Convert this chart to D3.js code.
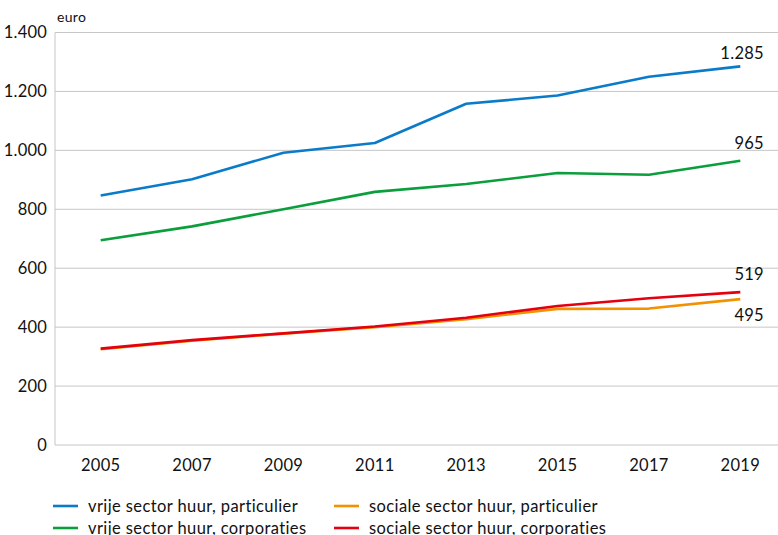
<!DOCTYPE html>
<html>
<head>
<meta charset="utf-8">
<script src="https://cdn.jsdelivr.net/npm/d3@7"></script>
<style>
  html, body { margin: 0; padding: 0; background: #fff; }
  svg { display: block; font-family: Lato, "Open Sans", sans-serif; }
</style>
</head>
<body>
<svg id="chart" width="778" height="535"></svg>
<script>
const years = [2005, 2007, 2009, 2011, 2013, 2015, 2017, 2019];
const yTicks = [0, 200, 400, 600, 800, 1000, 1200, 1400];
const vrijeParticulier = [847, 902, 992, 1025, 1158, 1186, 1250, 1285];
const vrijeCorporaties = [695, 742, 800, 859, 886, 923, 917, 965];
const socialeParticulier = [325, 354, 378, 400, 427, 462, 463, 495];
const socialeCorporaties = [327, 356, 379, 402, 432, 472, 498, 519];
const seriesNames = [
  "vrije sector huur, particulier",
  "vrije sector huur, corporaties",
  "sociale sector huur, particulier",
  "sociale sector huur, corporaties"
];
const endLabels = ["1.285", "965", "495", "519"];

const colors = ["#0a7bc9", "#0a9e3c", "#f39200", "#e3000f"];
const series = [vrijeParticulier, vrijeCorporaties, socialeParticulier, socialeCorporaties];

(function () {
const svg = d3.select("#chart");
const mLeft = 55, mRight = 786, mTop = 32.5, mBottom = 445;

const x = d3.scalePoint().domain(years).range([mLeft, mRight]).padding(0.5);
const y = d3.scaleLinear().domain([0, 1400]).range([mBottom, mTop]);
const fmt = v => d3.format(",")(v).replace(/,/g, ".");

// gridlines
svg.append("g").selectAll("line").data(yTicks).join("line")
  .attr("x1", mLeft).attr("x2", 778)
  .attr("y1", d => y(d)).attr("y2", d => y(d))
  .attr("stroke", "#c6c6c6").attr("stroke-width", 1);
// y axis line
svg.append("line").attr("x1", mLeft).attr("x2", mLeft)
  .attr("y1", mTop).attr("y2", mBottom)
  .attr("stroke", "#c6c6c6").attr("stroke-width", 1);

// y labels
svg.append("g").selectAll("text").data(yTicks).join("text")
  .attr("x", 47).attr("y", d => y(d)).attr("dy", "0.36em")
  .attr("text-anchor", "end").attr("font-size", 16.5).attr("letter-spacing", 0.2).attr("fill", "#111")
  .text(d => fmt(d));

svg.append("text").attr("x", 57).attr("y", 22).attr("font-size", 14)
  .attr("letter-spacing", 0.3).attr("fill", "#111").text("euro");

// x labels
svg.append("g").selectAll("text").data(years).join("text")
  .attr("x", d => x(d)).attr("y", 471)
  .attr("text-anchor", "middle").attr("font-size", 16.5).attr("letter-spacing", 0.3).attr("fill", "#111")
  .text(d => d);

const line = d3.line().x((d, i) => x(years[i])).y(d => y(d));
[0, 1, 2, 3].forEach(k => {
  svg.append("path").datum(series[k]).attr("d", line)
    .attr("fill", "none").attr("stroke", colors[k]).attr("stroke-width", 2.6)
    .attr("stroke-linejoin", "round");
});

// end labels
const labelOffsets = [-7, -12, 22, -12];
series.forEach((s, k) => {
  svg.append("text").attr("x", 764).attr("y", y(s[s.length - 1]) + labelOffsets[k])
    .attr("text-anchor", "end").attr("font-size", 16.5).attr("letter-spacing", 0.3).attr("fill", "#111")
    .text(endLabels[k]);
});

// legend
const legendPos = [[53, 506], [53, 528], [334, 506], [334, 528]];
seriesNames.forEach((name, k) => {
  const [lx, ly] = legendPos[k];
  svg.append("line").attr("x1", lx).attr("x2", lx + 25).attr("y1", ly).attr("y2", ly)
    .attr("stroke", colors[k]).attr("stroke-width", 2.6);
  svg.append("text").attr("x", lx + 35).attr("y", ly).attr("dy", "0.35em")
    .attr("font-size", 16.5).attr("letter-spacing", 0.4).attr("fill", "#111").text(name);
});
})();
</script>
</body>
</html>
